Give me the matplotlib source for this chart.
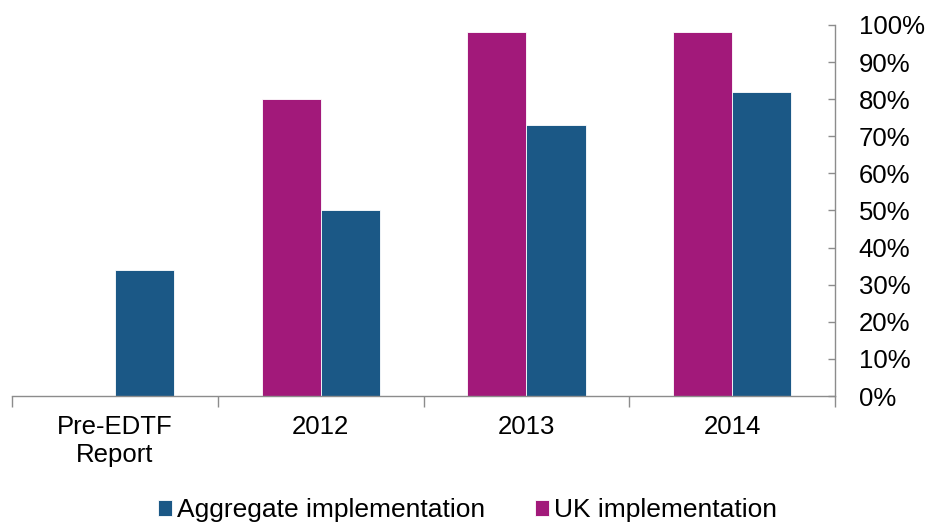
import numpy as np
import matplotlib.pyplot as plt
from matplotlib.ticker import PercentFormatter, MultipleLocator

plt.rcParams['font.family'] = ['Liberation Sans', 'DejaVu Sans']

categories = ['Pre-EDTF\nReport', '2012', '2013', '2014']
aggregate = [34, 50, 73, 82]
uk = [np.nan, 80, 98, 98]

BLUE = '#1B5886'
MAGENTA = '#A2197A'
GREY = '#8C8C8C'

fig = plt.figure(figsize=(9.3, 5.25), dpi=100)
ax = fig.add_axes([0.013, 0.2457, 0.885, 0.7067])

x = np.arange(len(categories))
w = 0.287
ax.bar(x - w / 2, uk, w, color=MAGENTA, edgecolor='white', linewidth=0.6,
       label='UK implementation')
ax.bar(x + w / 2, aggregate, w, color=BLUE, edgecolor='white', linewidth=0.6,
       label='Aggregate implementation')

ax.set_xlim(-0.5, len(categories) - 0.5)
ax.set_ylim(0, 100)

# percentage scale on the right
ax.yaxis.tick_right()
ax.yaxis.set_major_locator(MultipleLocator(10))
ax.yaxis.set_major_formatter(PercentFormatter(decimals=0))
ax.tick_params(axis='y', direction='in', length=5, width=1, color=GREY,
               pad=17, labelsize=18.5)

# category labels centred, tick marks on the boundaries
ax.set_xticks(x)
ax.set_xticklabels(categories)
ax.set_xticks(np.arange(-0.5, len(categories)), minor=True)
ax.tick_params(axis='x', which='major', length=0, pad=14, labelsize=18.5)
ax.tick_params(axis='x', which='minor', direction='out', length=8, width=1,
               color=GREY)

for side in ['top', 'left']:
    ax.spines[side].set_visible(False)
for side in ['bottom', 'right']:
    ax.spines[side].set_color(GREY)
    ax.spines[side].set_linewidth(1)

handles, labels = ax.get_legend_handles_labels()
fig.legend(handles[::-1], labels[::-1], loc='center', bbox_to_anchor=(0.503, 0.028),
           ncol=2, frameon=False, fontsize=19, handlelength=0.53,
           handleheight=0.53, handletextpad=0.19, columnspacing=1.9)

fig.savefig('out.png', dpi=100)
